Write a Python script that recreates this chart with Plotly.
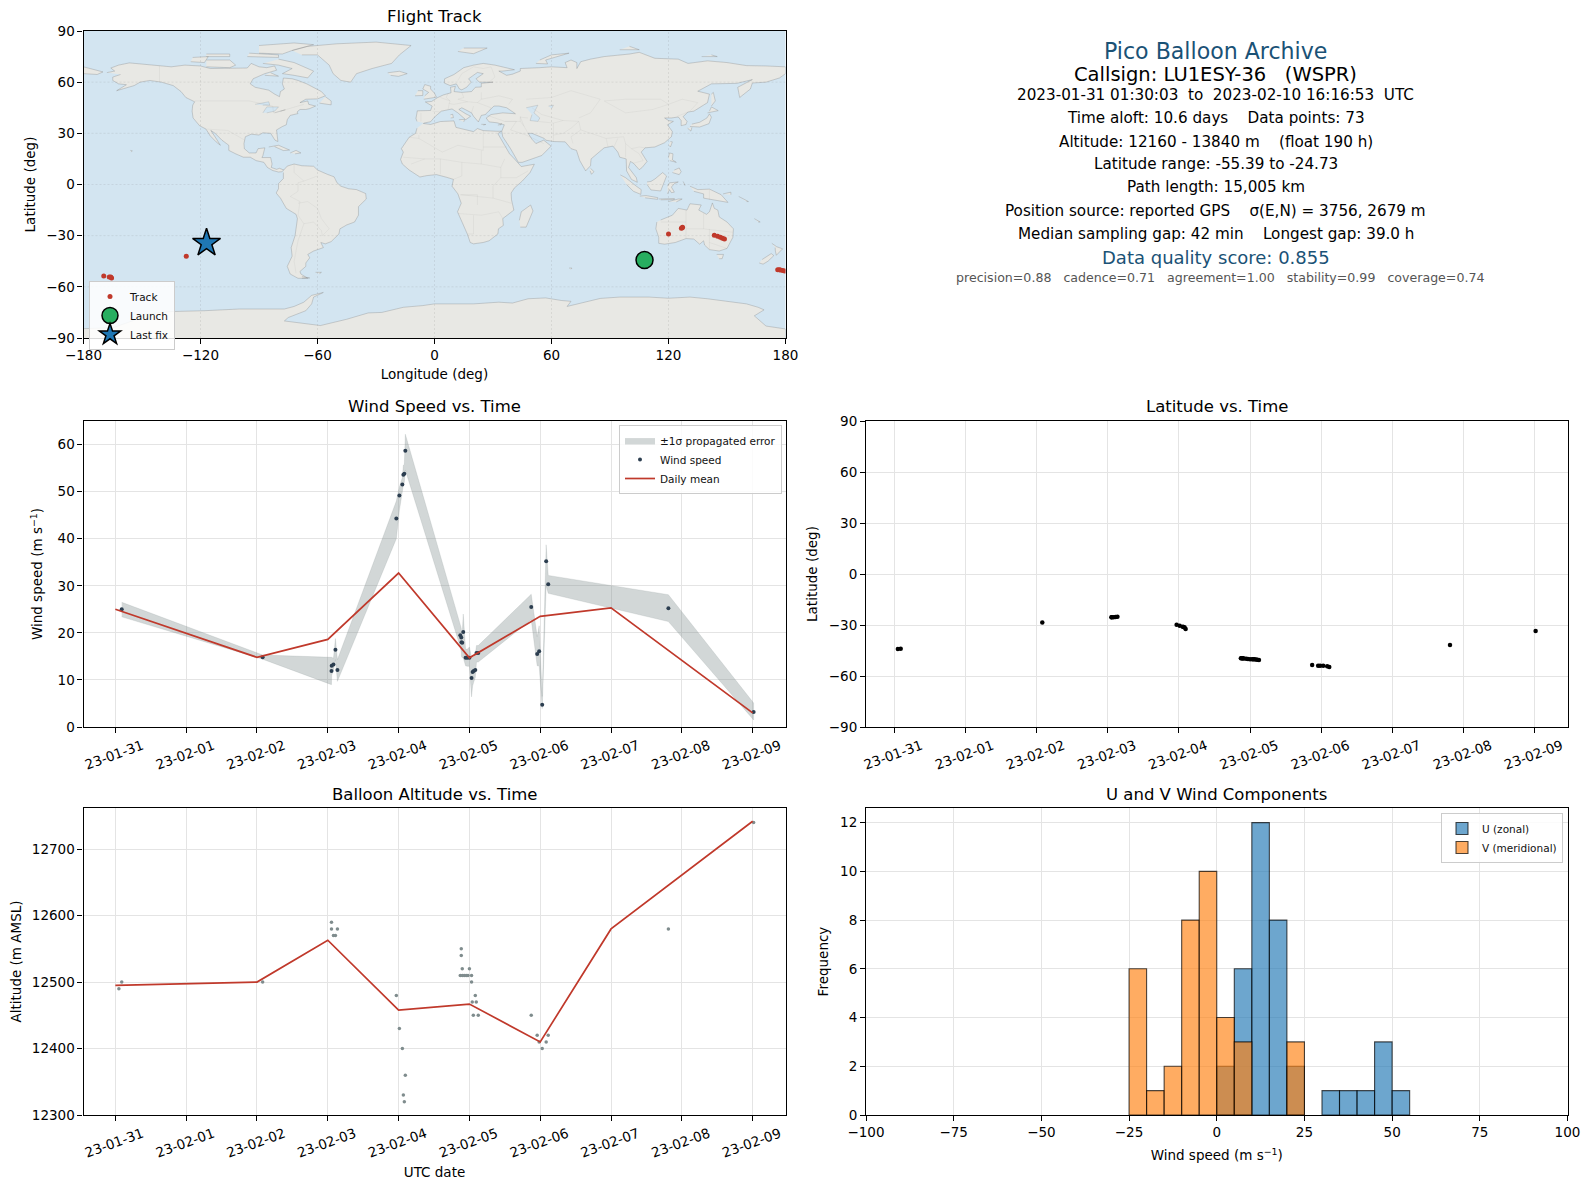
import pandas as pd
import plotly.graph_objects as go

W, H = 1589, 1189
FONT = "DejaVu Sans"

# ---------- wind / latitude series (days after 2023-01-31 00:00) ----------
wind_days = [0.09, 2.08, 3.052, 3.055, 3.08, 3.108, 3.136, 3.968, 4.011, 4.053, 4.067, 4.081, 4.095,
             4.871, 4.885, 4.888, 4.899, 4.913, 4.946, 4.97, 5.0, 5.03, 5.045, 5.06, 5.083, 5.10, 5.125,
             5.873, 5.957, 5.985, 6.028, 6.084, 6.113, 7.81, 9.014]
wind_speed = [25.0, 14.8, 11.9, 13.0, 13.3, 16.4, 12.1, 44.3, 49.2, 51.5, 53.6, 53.8, 58.7,
              19.5, 19.0, 18.0, 17.9, 20.2, 14.7, 14.7, 14.7, 10.4, 11.7, 11.9, 12.1, 15.7, 15.7,
              25.5, 15.5, 16.1, 4.7, 35.2, 30.3, 25.2, 3.2]
wind_high = [26.5, 15.3, 14.8, 14.8, 14.6, 18.8, 14.3, 48.0, 51.0, 53.0, 55.6, 55.8, 62.2,
             22.0, 21.0, 20.0, 20.0, 24.0, 16.5, 16.5, 17.0, 14.7, 14.7, 14.8, 15.5, 17.3, 17.3,
             28.2, 19.2, 21.5, 6.5, 38.7, 32.2, 28.1, 5.1]
wind_low = [23.4, 14.4, 9.0, 11.0, 12.0, 14.3, 9.7, 40.0, 46.0, 50.0, 51.5, 52.0, 54.6,
            17.0, 16.0, 15.0, 14.7, 14.7, 13.0, 12.9, 12.9, 6.4, 8.7, 9.5, 10.5, 13.8, 13.8,
            22.8, 13.0, 13.0, 3.9, 30.0, 28.4, 22.4, 1.5]
lat_values = [-44.0, -28.6, -25.4, -25.4, -25.4, -25.3, -25.2, -29.8, -30.5, -31.0, -31.2, -31.5, -32.3,
              -49.5, -49.5, -49.6, -49.6, -49.7, -49.8, -50.0, -50.1, -50.1, -50.2, -50.2, -50.3, -50.4, -50.6,
              -53.5, -54.0, -54.0, -53.9, -54.3, -54.7, -41.8, -33.5]
extra_lat_days = [0.05]
extra_lat_values = [-44.1]

mean_days = [0, 2, 3, 4, 5, 6, 7, 9]
mean_speed = [25.0, 14.8, 18.6, 32.7, 14.7, 23.5, 25.3, 3.0]
mean_alt = [12495, 12500, 12563, 12458, 12467, 12410, 12580, 12742]

alt_days = [0.05, 0.09, 2.08, 3.052, 3.052, 3.136, 3.08, 3.108, 3.968, 4.011, 4.053, 4.095, 4.067, 4.081,
            4.885, 4.885, 4.899, 5.0, 4.871, 4.899, 4.927, 4.955, 4.98, 5.03, 5.03, 5.083, 5.04, 5.097,
            5.055, 5.125, 5.873, 5.957, 6.113, 6.084, 6.028, 5.985, 7.81, 9.014]
alt_values = [12490, 12500, 12500, 12590, 12580, 12580, 12570, 12570, 12480, 12430, 12400, 12360, 12330, 12320,
              12550, 12540, 12520, 12520, 12510, 12510, 12510, 12510, 12510, 12510, 12500, 12480, 12470, 12470,
              12450, 12450, 12450, 12420, 12420, 12410, 12400, 12410, 12580, 12740]

# ---------- histogram ----------
bin_centers = [-22.5, -17.5, -12.5, -7.5, -2.5, 2.5, 7.5, 12.5, 17.5, 22.5, 27.5, 32.5, 37.5, 42.5, 47.5, 52.5]
u_counts = [None, None, None, None, None, 2, 6, 12, 8, 2, None, 1, 1, 1, 3, 1]
v_counts = [6, 1, 2, 8, 10, 4, 3, None, None, 3, None, None, None, None, None, None]

# ---------- map ----------
track_lon = [120, 126.6, 127, 127.2, 143.5, 145.2, 146.6, 147.7, 148.7, 176, 176.8, 177.4, 178.6, 179.6,
             -169.6, -166.8, -166, -165.6, -127.3]
track_lat = [-29, -25.6, -25.3, -25.0, -29.8, -30.4, -31, -31.5, -32, -50, -50, -50.1, -50.4, -50.7,
             -53.6, -54.2, -54.3, -54.8, -42]
launch_lon, launch_lat = [107.7], [-44.3]
last_lon, last_lat = [-116.9], [-34.3]
lon_ticks = [-180, -120, -60, 0, 60, 120, 180]
lat_ticks = [-90, -60, -30, 0, 30, 60, 90]

north_america = [(-168,65.6),(-164,66.5),(-166,68.3),(-162,70),(-156.5,71.3),(-150,70.5),(-141,69.6),(-135,69),(-128,70),(-120,69.5),(-115,68),(-108,68),(-100,68),(-96,68.3),(-94,71),(-90,69),(-86,68.5),(-82,69.5),(-81,67),(-87,65),(-93,62),(-94.5,59),(-92,57),(-85,55.3),(-82,53),(-79.5,51.5),(-79,54.5),(-77,56),(-78,59),(-77.5,62.4),(-73,62),(-70,61),(-65.5,59),(-62,57),(-58,54.5),(-56,52),(-60,50.2),(-66,50),(-69,48),(-65,49),(-64.5,47),(-61,46),(-64,44.5),(-66,44),(-69,44),(-70.5,42.5),(-70,41.6),(-74,40.5),(-75.5,38),(-76,35),(-78,34),(-81,32),(-80.2,27),(-80.3,25.2),(-81.8,26),(-82.8,28),(-84,30),(-88,30.3),(-90,29),(-94,29.5),(-97,28),(-97.7,24),(-97.5,21),(-95,18.5),(-91.5,18.5),(-90.5,21),(-87,21.5),(-88,17),(-88.5,15.8),(-84,15.8),(-83.3,12),(-83.7,10),(-81,8.9),(-79.5,9.5),(-77.3,8.5),(-78.3,7.5),(-80,7.3),(-83,8.2),(-85.7,10),(-87.5,13),(-91.5,14),(-94.5,16),(-98,16),(-102,18),(-105.5,20),(-105.5,23),(-109,26),(-112.5,30),(-114.7,31.7),(-112,27),(-109.8,23),(-112,25),(-115,28.5),(-117.2,32.5),(-120.5,34.5),(-123.8,39),(-124.3,43),(-124,46.5),(-123,48.5),(-127.5,51),(-130,54.5),(-134,58),(-140,60),(-146,61),(-151,60),(-154,58),(-158,56.5),(-163,55),(-158,58.5),(-162,59),(-165,61),(-165,63),(-161,64.5)]
south_america = [(-77.3,8.5),(-75.5,10.8),(-72,12),(-68,11),(-62,10.7),(-60,8.5),(-55,6),(-51.5,4.5),(-50,1),(-48,-1),(-44,-2.5),(-40,-3),(-35.3,-5.3),(-35,-8.5),(-39,-13),(-39,-18),(-41,-22),(-45,-23.7),(-48.5,-26),(-49,-29),(-53,-33.5),(-56,-34.8),(-58.3,-34),(-57,-37),(-62,-39),(-65,-41),(-64,-43),(-66,-46),(-66,-48),(-69,-51),(-68.5,-52.5),(-65,-55),(-70,-55),(-74,-52.5),(-75.5,-48),(-73,-42),(-73.5,-37),(-71.5,-30),(-70.3,-20),(-71,-17.5),(-76,-14),(-79,-8),(-81.2,-5),(-80,-2.5),(-80,0.5),(-77.5,3.5),(-77.5,7)]
africa = [(-5.9,35.8),(-2,35.2),(3,36.9),(10,37.3),(11,33.5),(15,32.3),(20,31),(22,32.8),(25,31.6),(32,31.2),(34.3,31.2),(32.5,29.8),(35.5,24),(37.2,21),(38.5,18),(41,15),(43.3,12),(44.5,10.5),(51.2,11.9),(49,7),(45,2),(41,-2),(39.3,-5),(39.5,-9),(40.7,-15),(35,-20),(35.3,-24),(32.8,-26),(32.5,-29),(28,-33),(25,-34),(20,-34.8),(18.3,-34),(17,-29.5),(14.5,-23),(11.8,-16),(13.7,-11),(12,-5.5),(9,-1),(9.7,3),(6,4.3),(1,5.8),(-4,5.2),(-7.5,4.4),(-13,8.5),(-16.5,12),(-17.4,14.7),(-16,19),(-17,21),(-13,27.7),(-9.7,30),(-9,33)]
eurasia = [(-9,37),(-9.5,38.8),(-8.8,43.2),(-2,43.4),(-1.2,46),(-4.7,48.4),(-1.5,48.7),(1.5,50.9),(4.5,52.5),(8.5,53.8),(8.2,57),(10.7,57.6),(10,54.5),(14,54),(19,54.5),(21,57),(24,57.2),(24,59.3),(30,60),(23,60),(21.3,62),(25,65),(22,65.7),(17.5,62),(18.8,60),(16.5,57),(14,55.5),(12.8,56),(11.2,59),(8,58),(5,59.5),(5.2,62),(10,64.5),(15,68.5),(20,70),(25,71),(31,70),(41,67.3),(35,66.5),(33,66.5),(37,64),(40,64.7),(44,66.5),(44,68),(54,68.5),(60,69),(68,68.5),(67,71.5),(70,73),(73,71.5),(73,68),(75,72),(80,73.5),(87,75),(100,76.5),(105,77.5),(113,74),(125,73.5),(130,71),(140,72.5),(150,71.5),(160,69.7),(170,69.5),(180,69),(180,65),(177,62.5),(170,60),(163,59.5),(162,56),(156.5,51),(155.5,57),(163,61.5),(155,59.3),(142,59),(135,54.7),(141,53),(140,48),(133,43),(130,42.5),(127.5,39.8),(129.5,37),(129,35.2),(126.5,34.5),(126.5,37.5),(125,39.6),(121.5,39),(118,39),(120,37.5),(122.5,37),(119.5,35),(122,31),(121.5,28),(118,24.5),(113,22),(108,21.5),(106,19),(109,13.5),(106.5,10),(105,8.7),(102,12.5),(100.5,13.5),(99.5,10),(103.5,4),(104,1.3),(101,3),(98.5,8),(98.3,15),(95,16),(94,19),(91.5,22.5),(87,21.5),(85,19.5),(80.3,15),(80,11),(77.5,8),(74.5,14),(72.8,20),(70,21),(67,25),(61,25.2),(57,26),(56.3,27),(50,30),(48,30),(50,26.5),(52,24),(56,26),(59.8,22.5),(55,17),(45,13),(43,13),(39,21),(35,28),(34.5,31.2),(35.8,35),(32,36.2),(28,36.7),(26.5,39),(29,41),(35,42),(41.5,41.5),(37,45),(33,46),(30.5,46),(28,43),(26,41),(24,40.5),(23,38),(22.5,36.7),(20,40),(19,42),(14,45),(12.5,44),(16,41.5),(18.5,40),(16,38),(12,42),(9,44.3),(3.5,43),(0,39.5),(-2,36.8),(-5.5,36)]
chukotka = [(-180,69),(-175,67.5),(-170,66),(-173,64.5),(-180,65)]
greenland = [(-73,78.5),(-65,81),(-50,82.5),(-30,83.5),(-12,81.5),(-18,76),(-22,71),(-32,68),(-40,65),(-43,60),(-48,61),(-52,65),(-54,70),(-60,76),(-68,76)]
australia = [(114,-22),(113.5,-26),(115,-31),(115,-34.5),(118,-35),(123.5,-34),(129,-31.7),(133,-32),(136,-35),(138,-33),(138.5,-35.5),(141,-38.2),(146,-39),(150,-37.5),(153,-31),(153.3,-26),(150,-22),(146,-19),(145.3,-15),(143.5,-14),(142.5,-10.8),(141,-16),(139.5,-17.5),(135.5,-15),(136.8,-12),(131,-11.3),(129.5,-15),(125,-14),(122,-18),(116,-20.8)]
antarctica = [(-180,-90),(-180,-84.5),(-165,-84),(-155,-80),(-148,-76),(-135,-74.5),(-118,-74),(-100,-73),(-90,-73),(-77,-73),(-72,-71.5),(-67,-69),(-63,-65),(-57,-63.3),(-62,-66),(-63,-70),(-66,-74),(-75,-78),(-77,-80),(-65,-82),(-58.5,-82.7),(-45,-79),(-34,-75.3),(-27,-75),(-16,-72),(-6,-71),(0,-70),(10,-70),(20,-70),(33,-69),(40,-69.5),(48,-67),(57,-66.5),(65,-68),(70,-68.5),(68,-71.5),(75,-69.5),(85,-66.8),(95,-66),(110,-66),(120,-66.7),(131,-66),(140,-67),(150,-68.5),(160,-70),(166,-72),(169,-73.5),(164,-77),(166,-79),(170,-83),(180,-84.7),(180,-90)]
islands = [
    [(-80,73.5),(-72,71.5),(-62,66.5),(-65,62.5),(-72,64),(-78,65),(-73,68),(-80,70),(-88,71)],
    [(-117,69),(-105,68.5),(-102,70),(-105,73),(-117,73)],
    [(-90,77),(-78,76.5),(-72,79),(-62,82),(-72,83),(-90,81.5)],
    [(-125,72),(-118,71.5),(-116,75),(-124,74.5)],
    [(-96,75),(-80,74.5),(-80,76),(-95,77)],
    [(-117,75),(-105,75),(-105,76.5),(-117,76.5)],
    [(-59,47.7),(-53,46.7),(-53,49),(-56,51.5)],
    [(-87,64),(-80,63.5),(-84,65.5)],
    [(-85,22),(-80,23),(-74.3,20.2),(-77.5,19.9),(-82,22.2)],
    [(-74,18.5),(-71,20),(-68.5,18.5),(-71.5,18)],
    [(-24,65.5),(-18,66.4),(-14,65),(-18.5,63.4),(-22.5,64)],
    [(-5.5,50),(1,51.2),(0,53.5),(-2,56),(-2,57.6),(-5,58.6),(-6,56),(-3,54),(-5,52)],
    [(-10,52),(-6,52.2),(-6,55),(-8.5,55)],
    [(12,78),(20,76.7),(27,80),(15,80)],
    [(52,71),(58,70.7),(57,73),(69,77),(60,76),(54,73)],
    [(95,79),(105,79),(100,81)],
    [(137,75),(145,75),(142,76)],
    [(142,46),(144,49),(143,54),(142,53)],
    [(131,34),(136,33.7),(140.8,35.7),(142,39.5),(141,41.4),(139.7,39),(136,36.5),(132,35.4)],
    [(140,42),(145.5,43.3),(142,45.5),(141,43)],
    [(129.8,33),(131.5,31.3),(132,33.5)],
    [(120.2,23),(121,22),(122,25),(121,25.2)],
    [(120,16),(120.5,18.5),(122.3,18),(122,14.5),(124,13),(120.7,14)],
    [(122,7),(125.5,5.8),(126.5,7.5),(125.5,9.7),(123,8.5)],
    [(95.3,5.6),(98,4),(103.5,-1),(106,-3),(105.8,-5.8),(102,-4),(98.5,0)],
    [(105.3,-6.8),(108.5,-6.5),(114.5,-7.7),(114.4,-8.7),(108,-7.8)],
    [(109,1.5),(111,1.8),(113,3.2),(117,7),(119,5),(117.7,1),(116,-3.8),(111,-3.2),(109,0)],
    [(119.5,-5.5),(120.5,-3),(121.5,-4.8),(123,-4.5),(121.5,-1.5),(123,0.5),(125,1.5),(120.5,1),(119.5,-1)],
    [(131,-1),(135,-3),(141,-2.7),(147,-6),(150.5,-10.5),(147,-10),(143,-9),(138,-8),(138,-5.5),(133,-4)],
    [(120,-10),(125,-8.5),(127,-8.5),(124,-10.2)],
    [(115,-8.5),(123,-8.2),(123,-8.8),(116,-9)],
    [(127.5,1.8),(128.5,-0.5),(128,0)],
    [(148,-5.5),(152,-4.5),(152,-6)],
    [(156,-7),(161,-10),(160,-10)],
    [(164,-20),(167,-22),(166,-22)],
    [(144.7,-41),(148.2,-41),(147.5,-43.5),(146,-43.5)],
    [(166.5,-46),(168.5,-46.7),(171,-45),(174,-41.7),(172.7,-40.5),(168,-44)],
    [(173,-34.5),(175.5,-36.5),(178.5,-37.7),(175.3,-41.5),(174.8,-39),(174.7,-37)],
    [(44,-25),(47,-25),(50.5,-15.5),(49.3,-12),(44.5,-16),(43.5,-21)],
    [(80,9.5),(81.8,7.5),(80.5,6),(79.8,8)],
    [(12.5,38),(15.5,38.2),(15,36.7)],
    [(8.3,39),(9.7,39.2),(9.3,41.2),(8.2,40.9)],
    [(24,35.3),(26.3,35.2),(25,34.9)],
    [(32.5,34.8),(34.5,35.6),(33.5,34.7)],
    [(69,-49),(70.5,-49),(70,-49.7)],
    [(-156,20),(-155,19.8),(-155.5,19)],
    [(-61,-51.5),(-58,-51.5),(-59,-52.3)],
    [(-68,-54),(-64,-54.8),(-68,-55)],
]
inland_water = [
    [(47,45),(53,46.5),(51,42),(54,39),(53,37),(49,37.5),(50,41)],
    [(-92,47),(-85,48.5),(-84.5,46.5),(-88,46.5)],
    [(-88,42),(-86,45.5),(-80,45.5),(-82,43),(-86,42)],
    [(-82,42),(-76.5,43.8),(-79,43)],
    [(58.5,46),(61,46.5),(60,44.5)],
]
borders = [
    [(-117,32.5),(-106,31.7),(-97.3,26)], [(-123,49),(-95,49),(-83,46),(-82.5,42),(-76,44),(-67,47)], [(-141,69.6),(-141,60)],
    [(-70,-18),(-69,-10),(-74,-7),(-70,-4),(-70,1),(-67,2),(-60,5)], [(-57.5,-30),(-54,-26),(-58,-20),(-60,-14),(-65,-10),(-70,-11)],
    [(-70,-18),(-67,-23),(-70,-33),(-72,-45),(-71,-52)], [(-67,-23),(-62,-22),(-58,-27),(-57.5,-30)], [(-72,12),(-72,7),(-67,2)],
    [(-13,27.7),(-8,27),(-8,29)], [(-8,27),(4,19),(12,23),(25,20),(25,31.6)], [(25,22),(37,22)], [(-16,16),(-5,15),(3,15),(14,13),(24,12),(24,20)],
    [(24,12),(34,10),(36,15)], [(14,13),(14,5),(9.7,3)], [(3,15),(3,6)], [(34,10),(34,4),(42,4),(48,8)], [(34,4),(30,-1),(30,-8),(13.7,-6)],
    [(30,-8),(39.5,-11)], [(12,-17),(24,-18),(33,-16),(35,-20)], [(20,-18),(20,-29),(17,-29)], [(-5,15),(-12,12)], [(22,-12),(22,-6),(13,-6)],
    [(-1,43),(3,42.5)], [(-7,37),(-7,42)], [(3,51),(8,49),(7.5,47.5),(7,44)], [(7,53.5),(6,51),(8,49)], [(14,54),(15,51),(12,50),(17,48.5),(10,47),(7.5,47.5)],
    [(24,54),(24,50),(22,48),(17,48.5)], [(24,50),(33,52),(40,50),(38,47)], [(28,60),(31,63),(29,69)], [(20,69),(25,68),(29,69)], [(12,61),(14,65),(20,69)],
    [(22,48),(29,45),(28,43)], [(20,46),(19,42)], [(26,41),(36,37),(44,37),(44,40)], [(36,37),(42,37),(39,32),(47,29)], [(47,29),(56,24)], [(44,37),(46,34),(48,30)],
    [(46,34),(44,39.5),(48,39)], [(61,25),(61,36),(53,37)], [(61,36),(66,37.5),(74,37),(75,32),(70,28),(71,24)], [(61,29),(66,30),(70,33),(74,37)],
    [(50,45),(55,41),(66,37.5)], [(47,50),(60,51),(70,55),(85,50),(80,42),(74,39)], [(87,49),(98,42),(112,44),(120,47),(116,50),(98,50),(87,49)], [(120,47),(127,50),(135,48),(131,43)],
    [(75,32),(80,30),(88,27),(97,28),(98,24),(101,21),(105,22),(108,21.5)], [(88,27),(89,22)], [(92,22),(94,27)], [(98,24),(98,16)], [(101,21),(105,18),(107,14),(102,12.5)],
    [(124.5,40),(130,42.5)], [(116,-22),(129,-22)], [(129,-15),(129,-31.7)], [(138,-17),(138,-26),(129,-26)], [(141,-26),(141,-38)], [(138,-26),(153,-28)], [(141,-34),(150,-37.5)], [(141,-3),(141,-9)],
]


def flatten(shapes):
    xs, ys = [], []
    for shape in shapes:
        for lon, lat in shape:
            xs.append(lon); ys.append(lat)
        xs.append(None); ys.append(None)
    return xs, ys


def dates(days):
    return pd.Timestamp("2023-01-31") + pd.to_timedelta(days, unit="D")


def dom_x(a, b):
    return [a / W, b / W]


def dom_y(top, bottom):
    return [1 - bottom / H, 1 - top / H]


COL1, COL2 = (83.5, 785.5), (866, 1567.5)
ROW1, ROW2, ROW3 = (31, 338), (421, 727), (808, 1115)
RED = "#c0392b"
DARK = "#2c3e50"
GREY = "#7f8c8d"
GRID = "#e4e4e4"

fig = go.Figure()

# map
land_x, land_y = flatten([north_america, south_america, africa, eurasia, chukotka, greenland, australia, antarctica] + islands)
fig.add_trace(go.Scatter(x=land_x, y=land_y, mode="lines", fill="toself", fillcolor="#e8e8e4",
                         line=dict(color="rgba(120,120,120,0.34)", width=0.9), showlegend=False, hoverinfo="skip", xaxis="x", yaxis="y"))
water_x, water_y = flatten(inland_water)
fig.add_trace(go.Scatter(x=water_x, y=water_y, mode="lines", fill="toself", fillcolor="#d3e5f1",
                         line=dict(color="rgba(120,120,120,0.3)", width=0.7), showlegend=False, hoverinfo="skip", xaxis="x", yaxis="y"))
border_x, border_y = flatten(borders)
fig.add_trace(go.Scatter(x=border_x, y=border_y, mode="lines", line=dict(color="rgba(120,120,120,0.09)", width=0.8),
                         showlegend=False, hoverinfo="skip", xaxis="x", yaxis="y"))
grid_x, grid_y = flatten([[(v, -90), (v, 90)] for v in lon_ticks[1:-1]] + [[(-180, v), (180, v)] for v in lat_ticks[1:-1]])
fig.add_trace(go.Scatter(x=grid_x, y=grid_y, mode="lines", line=dict(color="rgba(110,110,110,0.18)", width=0.8, dash="2px,2px"),
                         showlegend=False, hoverinfo="skip", xaxis="x", yaxis="y"))
fig.add_trace(go.Scatter(x=track_lon, y=track_lat, mode="markers", name="Track", legend="legend",
                         marker=dict(color=RED, size=5), xaxis="x", yaxis="y"))
fig.add_trace(go.Scatter(x=launch_lon, y=launch_lat, mode="markers", name="Launch", legend="legend",
                         marker=dict(color="#27ae60", size=17, line=dict(color="black", width=1.5)), xaxis="x", yaxis="y"))
fig.add_trace(go.Scatter(x=last_lon, y=last_lat, mode="markers", name="Last fix", legend="legend",
                         marker=dict(color="#1f77b4", size=21, symbol="star", line=dict(color="black", width=1.5)), xaxis="x", yaxis="y"))

# wind
t = dates(wind_days)
band_x = list(t) + list(t[::-1])
band_y = wind_high + wind_low[::-1]
fig.add_trace(go.Scatter(x=band_x, y=band_y, mode="lines", fill="toself", fillcolor="rgba(127,140,141,0.35)",
                         line=dict(width=0.5, color="rgba(127,140,141,0.35)"), name="±1σ propagated error", legend="legend2", xaxis="x2", yaxis="y2"))
fig.add_trace(go.Scatter(x=t, y=wind_speed, mode="markers", marker=dict(color=DARK, size=4), name="Wind speed", legend="legend2", xaxis="x2", yaxis="y2"))
fig.add_trace(go.Scatter(x=dates(mean_days), y=mean_speed, mode="lines", line=dict(color=RED, width=1.7), name="Daily mean", legend="legend2", xaxis="x2", yaxis="y2"))

# latitude
fig.add_trace(go.Scatter(x=list(dates(extra_lat_days)) + list(t), y=extra_lat_values + lat_values, mode="markers",
                         marker=dict(color="black", size=4.5), showlegend=False, xaxis="x3", yaxis="y3"))

# altitude
fig.add_trace(go.Scatter(x=dates(alt_days), y=alt_values, mode="markers", marker=dict(color=GREY, size=3.5), showlegend=False, xaxis="x4", yaxis="y4"))
fig.add_trace(go.Scatter(x=dates(mean_days), y=mean_alt, mode="lines", line=dict(color=RED, width=1.7), showlegend=False, xaxis="x4", yaxis="y4"))

# histogram
fig.add_trace(go.Bar(x=bin_centers, y=u_counts, width=5, name="U (zonal)", legend="legend3",
                     marker=dict(color="rgba(31,119,180,0.65)", line=dict(color="rgba(0,0,0,0.7)", width=1.1)), xaxis="x5", yaxis="y5"))
fig.add_trace(go.Bar(x=bin_centers, y=v_counts, width=5, name="V (meridional)", legend="legend3",
                     marker=dict(color="rgba(255,127,14,0.65)", line=dict(color="rgba(0,0,0,0.7)", width=1.1)), xaxis="x5", yaxis="y5"))

axis_common = dict(showline=True, linecolor="black", linewidth=1.1, mirror=True, ticks="outside", ticklen=5, tickwidth=1.1,
                   tickcolor="black", tickfont=dict(size=13.5, color="black"), zeroline=False, gridcolor=GRID, gridwidth=1, layer="above traces")
time_range = ["2023-01-30 13:12", "2023-02-09 11:08"]
lat_time_range = ["2023-01-30 14:27", "2023-02-09 11:05"]
time_axis = dict(axis_common, type="date", range=time_range, tick0="2023-01-31", dtick=86400000, tickformat="%y-%m-%d",
                 tickangle=-20, ticklabelshift=27)


def xtitle(s, standoff=6):
    return dict(text=s, font=dict(size=13.5, color="black"), standoff=standoff)


def ytitle(s, standoff=8):
    return dict(text=s, font=dict(size=13.5, color="black"), standoff=standoff)


legend_common = dict(xref="paper", yref="paper", bgcolor="rgba(255,255,255,0.85)", bordercolor="#cccccc", borderwidth=1,
                     font=dict(size=10.5, color="#111111"), xanchor="left", yanchor="top", tracegroupgap=0, itemwidth=30)


def title_note(text, col, row):
    return dict(text=text, x=(col[0] + col[1]) / 2 / W, y=1 - (row[0] - 3) / H, xref="paper", yref="paper",
                xanchor="center", yanchor="bottom", showarrow=False, font=dict(size=16.5, color="black"))


INFO_X = 1215.5 / W


def info(text, py, size, color="black", px=INFO_X):
    return dict(text=text, x=px, y=1 - py / H, xref="paper", yref="paper", xanchor="center", yanchor="middle",
                showarrow=False, font=dict(size=size, color=color))


NAVY = "#1a5276"
notes = [
    title_note("Flight Track", COL1, ROW1),
    title_note("Wind Speed vs. Time", COL1, ROW2),
    title_note("Latitude vs. Time", COL2, ROW2),
    title_note("Balloon Altitude vs. Time", COL1, (ROW3[0] + 1, ROW3[1])),
    title_note("U and V Wind Components", COL2, (ROW3[0] + 1, ROW3[1])),
    info("Pico Balloon Archive", 51, 22.1, NAVY),
    info("Callsign: LU1ESY-36   (WSPR)", 74, 19.5),
    info("2023-01-31 01:30:03  to  2023-02-10 16:16:53  UTC", 95, 15.2),
    info("Time aloft: 10.6 days    Data points: 73", 118, 15.2),
    info("Altitude: 12160 - 13840 m    (float 190 h)", 141.5, 15.2),
    info("Latitude range: -55.39 to -24.73", 164, 15.2),
    info("Path length: 15,005 km", 187, 15.2),
    info("Position source: reported GPS    σ(E,N) = 3756, 2679 m", 211, 15.2),
    info("Median sampling gap: 42 min    Longest gap: 39.0 h", 234, 15.2),
    info("Data quality score: 0.855", 257, 18, NAVY),
    info("precision=0.88   cadence=0.71   agreement=1.00   stability=0.99   coverage=0.74", 278, 12.6, "#555555", 1219.5 / W),
]

fig.update_layout(
    width=W, height=H, margin=dict(l=0, r=0, t=0, b=0, autoexpand=False), autosize=False,
    paper_bgcolor="white", plot_bgcolor="white", font=dict(family=FONT, color="black"),
    barmode="overlay", annotations=notes,
    shapes=[dict(type="rect", xref="x domain", yref="y domain", x0=0, x1=1, y0=0, y1=1, fillcolor="#d3e5f1", line_width=0, layer="below")],
    xaxis=dict(axis_common, domain=dom_x(*COL1), range=[-180, 180], tickvals=lon_ticks, showgrid=False, anchor="y", title=xtitle("Longitude (deg)", 7)),
    yaxis=dict(axis_common, domain=dom_y(*ROW1), range=[-90, 90], tickvals=lat_ticks, showgrid=False, anchor="x", title=ytitle("Latitude (deg)", 7)),
    xaxis2=dict(time_axis, domain=dom_x(*COL1), anchor="y2"),
    yaxis2=dict(axis_common, domain=dom_y(*ROW2), range=[0, 65], tickvals=[0, 10, 20, 30, 40, 50, 60], anchor="x2", title=ytitle("Wind speed (m s<sup>−1</sup>)", 11)),
    xaxis3=dict(time_axis, domain=dom_x(*COL2), range=lat_time_range, anchor="y3"),
    yaxis3=dict(axis_common, domain=dom_y(*ROW2), range=[-90, 90], tickvals=lat_ticks, anchor="x3", title=ytitle("Latitude (deg)")),
    xaxis4=dict(time_axis, domain=dom_x(*COL1), anchor="y4", title=xtitle("UTC date", 7)),
    yaxis4=dict(axis_common, domain=dom_y(*ROW3), range=[12300, 12762], tickvals=[12300, 12400, 12500, 12600, 12700], tickformat="d", anchor="x4", title=ytitle("Altitude (m AMSL)", 7)),
    xaxis5=dict(axis_common, domain=dom_x(*COL2), range=[-100, 100], tickvals=[-100, -75, -50, -25, 0, 25, 50, 75, 100], anchor="y5", title=xtitle("Wind speed (m s<sup>−1</sup>)", 11)),
    yaxis5=dict(axis_common, domain=dom_y(*ROW3), range=[0, 12.6], tickvals=[0, 2, 4, 6, 8, 10, 12], anchor="x5", title=ytitle("Frequency")),
    legend=dict(legend_common, x=89 / W, y=1 - 281 / H, itemsizing="trace"),
    legend2=dict(legend_common, x=619 / W, y=1 - 425 / H),
    legend3=dict(legend_common, x=1441 / W, y=1 - 813 / H),
)

fig.write_html("out.html", post_script="document.body.style.margin='0';document.documentElement.style.overflow='hidden';",
               config=dict(displayModeBar=False))
